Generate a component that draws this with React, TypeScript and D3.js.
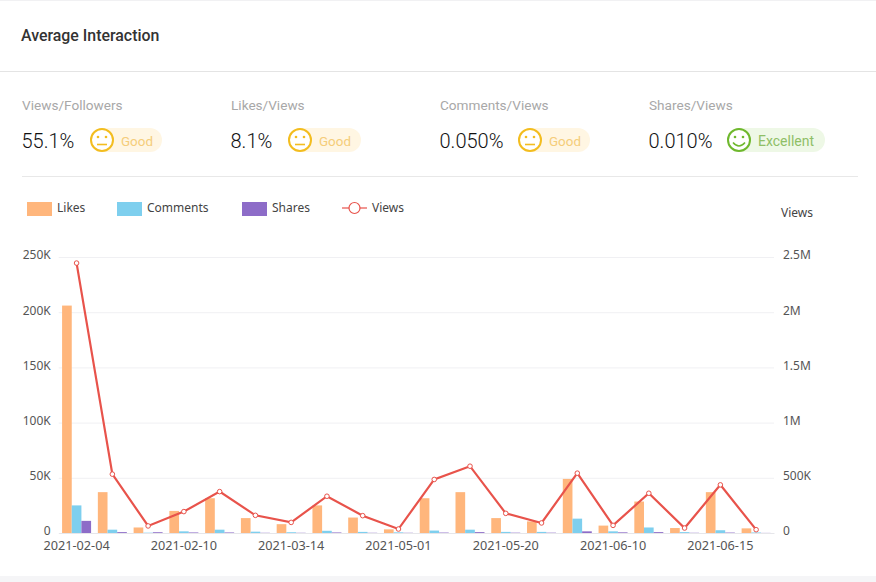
import { useEffect, useRef } from "react";
import * as d3 from "d3";

const dates = [
  "2021-02-04", "2021-02-05", "2021-02-08", "2021-02-10", "2021-02-20",
  "2021-03-01", "2021-03-14", "2021-03-20", "2021-04-10", "2021-05-01",
  "2021-05-05", "2021-05-12", "2021-05-20", "2021-05-28", "2021-06-05",
  "2021-06-10", "2021-06-12", "2021-06-13", "2021-06-15", "2021-06-16",
];
const likes = [206, 37, 5, 20, 31.5, 13.5, 8, 25, 14, 3.3, 31.5, 37, 13.5, 10.5, 49, 6.7, 28.5, 4.5, 37, 4.2];
const comments = [25, 3, 0.3, 1.5, 3, 1.2, 0.7, 2, 1, 0.6, 2.2, 3, 1, 1, 13, 1.5, 5, 0.8, 2.5, 0.5];
const shares = [11, 0.8, 0.7, 0.5, 0.5, 0.2, 0.2, 0.5, 0.2, 0.2, 0.4, 0.8, 0.3, 0.3, 1.5, 0.6, 0.8, 0.2, 0.4, 0.1];
const views = [2445, 533, 64, 194, 375, 160, 96, 333, 157, 36, 485, 605, 178, 91, 542, 69, 360, 45, 436, 30];

const leftTicks = [0, 50, 100, 150, 200, 250];
const rightTicks = [0, 500, 1000, 1500, 2000, 2500];
const rightLabels = ["0", "500K", "1M", "1.5M", "2M", "2.5M"];

const metricNames = ["Views/Followers", "Likes/Views", "Comments/Views", "Shares/Views"];
const metricValues = ["55.1%", "8.1%", "0.050%", "0.010%"];
const metricRatings = ["Good", "Good", "Good", "Excellent"];

const barNames = ["Likes", "Comments", "Shares"];
const barColors = ["#ffb67c", "#7ecfee", "#8d6cc8"];
const lineColor = "#e8534b";
const labelFont = "'Noto Sans', 'Open Sans', sans-serif";
const dinFont = "Roboto, sans-serif";

const App = () => {
  const svgRef = useRef<SVGSVGElement | null>(null);

  useEffect(() => {
    if (!svgRef.current) return;
    const svg = d3.select(svgRef.current);
    svg.selectAll("*").remove();

    const width = 876;
    const height = 582;
    const plot = { left: 58.7, right: 774, top: 257, bottom: 533 };

    svg.append("rect").attr("width", width).attr("height", height).attr("fill", "#fff");
    svg.append("rect").attr("width", width).attr("height", 1).attr("fill", "#f1f1f3");
    svg.append("rect").attr("y", 576).attr("width", width).attr("height", 6).attr("fill", "#f5f5f7");
    svg.append("rect").attr("y", 71).attr("width", width).attr("height", 1).attr("fill", "#e4e4e4");
    svg.append("rect").attr("x", 22).attr("y", 176).attr("width", 836).attr("height", 1).attr("fill", "#e8e8e8");

    svg.append("text")
      .attr("x", 21).attr("y", 41)
      .attr("font-family", dinFont).attr("font-size", 15.9).attr("font-weight", 500)
      .attr("fill", "#333").text("Average Interaction");

    // metric cards
    const cardX = [22, 231, 440, 649];
    const faceX = [102, 300, 530, 739];
    const pillEnd = [162, 361, 590, 825];
    metricNames.forEach((name, i) => {
      const good = metricRatings[i] === "Good";
      const faceColor = good ? "#f3bd1f" : "#6fb82e";
      svg.append("text").attr("x", cardX[i]).attr("y", 110)
        .attr("font-family", dinFont).attr("font-size", 13.6)
        .attr("fill", "#a8a8a8").text(name);
      svg.append("text").attr("x", cardX[i] - 0.5).attr("y", 148)
        .attr("font-family", dinFont).attr("font-size", 20).attr("font-weight", 300)
        .attr("fill", "#111").text(metricValues[i]);
      svg.append("rect").attr("x", faceX[i] - 12).attr("y", 128)
        .attr("width", pillEnd[i] - faceX[i] + 12).attr("height", 24).attr("rx", 12)
        .attr("fill", good ? "#fff6e3" : "#eef8e6");
      svg.append("circle").attr("cx", faceX[i]).attr("cy", 140).attr("r", 11)
        .attr("fill", "#fff").attr("stroke", faceColor).attr("stroke-width", 2);
      svg.append("circle").attr("cx", faceX[i] - 4).attr("cy", 137).attr("r", 1.3).attr("fill", faceColor);
      svg.append("circle").attr("cx", faceX[i] + 4).attr("cy", 137).attr("r", 1.3).attr("fill", faceColor);
      svg.append("path")
        .attr("d", good
          ? `M${faceX[i] - 5},144.5H${faceX[i] + 5}`
          : `M${faceX[i] - 6},142.5Q${faceX[i]},149.5 ${faceX[i] + 6},142.5`)
        .attr("fill", "none").attr("stroke", faceColor).attr("stroke-width", 1.6);
      svg.append("text").attr("x", faceX[i] + 19).attr("y", 146)
        .attr("font-family", dinFont).attr("font-size", good ? 13.4 : 14)
        .attr("fill", good ? "#f5cd7a" : "#8fbf66").text(metricRatings[i]);
    });

    // scales
    const x = d3.scaleBand<string>().domain(dates).range([plot.left, plot.right]);
    const barX = d3.scaleBand<string>()
      .domain(barNames)
      .range([0, x.bandwidth()])
      .paddingInner(0)
      .paddingOuter(0.35);
    const yLeft = d3.scaleLinear().domain([0, 250]).range([plot.bottom, plot.top]);
    const yRight = d3.scaleLinear().domain([0, 2500]).range([plot.bottom, plot.top]);

    // grid and axis labels
    const leftAxis = svg.append("g")
      .attr("transform", `translate(${plot.left},0)`)
      .call(
        d3.axisLeft(yLeft)
          .tickValues(leftTicks)
          .tickSize(-(plot.right - plot.left))
          .tickPadding(8)
          .tickFormat((d) => (+d === 0 ? "0" : `${d}K`))
      );
    leftAxis.select(".domain").remove();
    leftAxis.selectAll("line").attr("stroke", "#f0f0f3");
    leftAxis.selectAll("text")
      .attr("y", -2)
      .attr("font-family", labelFont).attr("font-size", 12).attr("fill", "#555");

    const rightAxis = svg.append("g")
      .attr("transform", `translate(${plot.right},0)`)
      .call(
        d3.axisRight(yRight)
          .tickValues(rightTicks)
          .tickSize(0)
          .tickPadding(9)
          .tickFormat((_, i) => rightLabels[i])
      );
    rightAxis.select(".domain").remove();
    rightAxis.selectAll("text")
      .attr("y", -2)
      .attr("font-family", labelFont).attr("font-size", 12).attr("fill", "#555");

    const bottomAxis = svg.append("g")
      .attr("transform", `translate(0,${plot.bottom})`)
      .call(
        d3.axisBottom(x)
          .tickValues(dates.filter((_, i) => i % 3 === 0))
          .tickSize(0)
          .tickPadding(8)
      );
    bottomAxis.select(".domain").attr("stroke", "#e6e6ea");
    bottomAxis.selectAll("text")
      .attr("font-family", labelFont).attr("font-size", 12.7).attr("fill", "#555");

    svg.append("text").attr("x", 781).attr("y", 217)
      .attr("font-family", labelFont).attr("font-size", 12).attr("fill", "#444").text("Views");

    // bars
    [likes, comments, shares].forEach((series, s) => {
      svg.append("g").selectAll("rect")
        .data(series)
        .enter()
        .append("rect")
        .attr("x", (_, i) => (x(dates[i]) ?? 0) + (barX(barNames[s]) ?? 0))
        .attr("y", (d) => yLeft(d))
        .attr("width", barX.bandwidth())
        .attr("height", (d) => plot.bottom - yLeft(d))
        .attr("fill", barColors[s]);
    });

    // views line
    const cx = (i: number) => (x(dates[i]) ?? 0) + x.bandwidth() / 2;
    const line = d3.line<number>().x((_, i) => cx(i)).y((d) => yRight(d));
    svg.append("path")
      .attr("d", line(views))
      .attr("fill", "none").attr("stroke", lineColor).attr("stroke-width", 2.2);
    svg.append("g").selectAll("circle")
      .data(views)
      .enter()
      .append("circle")
      .attr("cx", (_, i) => cx(i))
      .attr("cy", (d) => yRight(d))
      .attr("r", 2.3)
      .attr("fill", "#fff").attr("stroke", lineColor).attr("stroke-width", 1);

    // legend
    const legendX = [27, 117, 242];
    barNames.forEach((name, i) => {
      svg.append("rect").attr("x", legendX[i]).attr("y", 202)
        .attr("width", 25).attr("height", 14).attr("fill", barColors[i]);
      svg.append("text").attr("x", legendX[i] + 30).attr("y", 212)
        .attr("font-family", labelFont).attr("font-size", 12).attr("fill", "#444").text(name);
    });
    svg.append("path").attr("d", "M342,208H367").attr("stroke", lineColor).attr("stroke-width", 1.2);
    svg.append("circle").attr("cx", 354.5).attr("cy", 208).attr("r", 5.5)
      .attr("fill", "#fff").attr("stroke", lineColor).attr("stroke-width", 1.2);
    svg.append("text").attr("x", 372).attr("y", 212)
      .attr("font-family", labelFont).attr("font-size", 12).attr("fill", "#444").text("Views");
  }, []);

  return (
    <svg
      ref={svgRef}
      width={876}
      height={582}
      style={{ position: "absolute", left: 0, top: 0, display: "block" }}
    ></svg>
  );
};

export default App;
